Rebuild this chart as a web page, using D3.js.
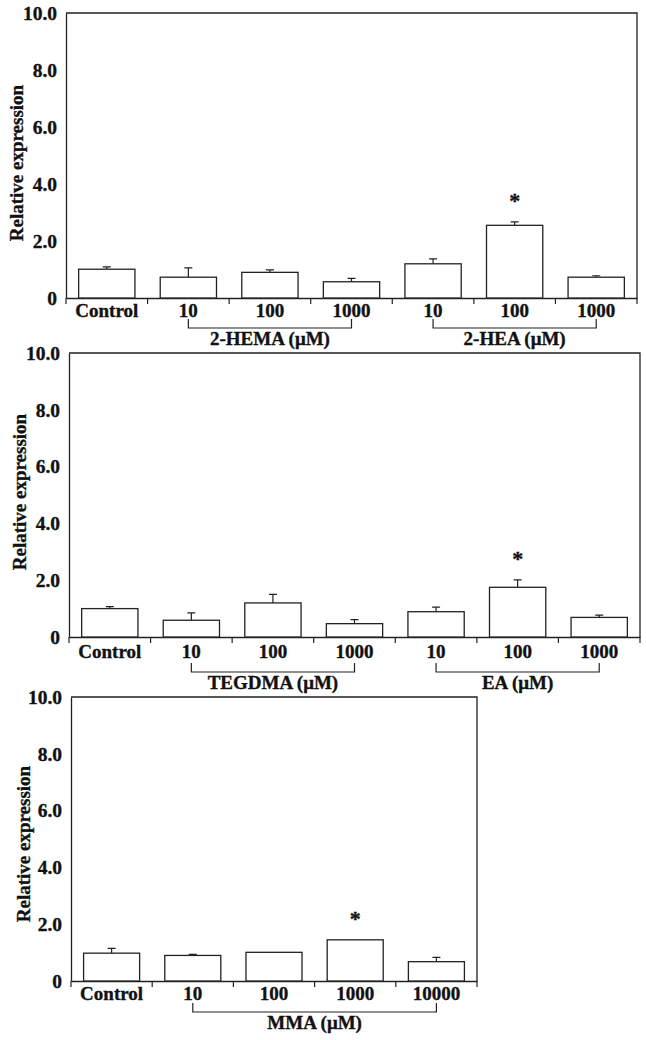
<!DOCTYPE html>
<html>
<head>
<meta charset="utf-8">
<script src="https://cdn.jsdelivr.net/npm/d3@7"></script>
<style>
  body { margin: 0; background: #fff; }
  svg text { font-family: "Liberation Serif", "Times New Roman", serif; font-weight: bold; fill: #111; stroke: #111; stroke-width: 0.35px; }
</style>
</head>
<body>
<div class="visContainer"></div>
<script>
// panel 1: 2-HEMA / 2-HEA
const labels1 = ['Control', '10', '100', '1000', '10', '100', '1000'];
const values1 = [1.01, 0.73, 0.90, 0.57, 1.20, 2.55, 0.73];
const errors1 = [0.08, 0.33, 0.09, 0.12, 0.17, 0.12, 0.05];
const stars1 = [5];
const groups1 = [['2-HEMA (μM)', 1, 3], ['2-HEA (μM)', 4, 6]];

// panel 2: TEGDMA / EA
const labels2 = ['Control', '10', '100', '1000', '10', '100', '1000'];
const values2 = [1.00, 0.59, 1.20, 0.47, 0.89, 1.75, 0.69];
const errors2 = [0.07, 0.26, 0.30, 0.14, 0.16, 0.26, 0.08];
const stars2 = [5];
const groups2 = [['TEGDMA (μM)', 1, 3], ['EA (μM)', 4, 6]];

// panel 3: MMA
const labels3 = ['Control', '10', '100', '1000', '10000'];
const values3 = [0.98, 0.90, 1.01, 1.45, 0.68];
const errors3 = [0.17, 0.04, 0, 0, 0.15];
const stars3 = [3];
const groups3 = [['MMA (μM)', 1, 4]];

const yTicks = [0, 2, 4, 6, 8, 10];

const width = 646;
const height = 1040;
const ink = '#222';

const svg = d3.select('.visContainer')
              .append('svg')
              .attr('width', width)
              .attr('height', height);

function barPanel(labels, values, errors, stars, groups, box) {
    const n = labels.length;
    const idx = d3.range(n);
    const g = svg.append('g');

    const xScale = d3.scaleBand()
                     .domain(idx)
                     .range([box.left, box.right])
                     .paddingInner(0.31)
                     .paddingOuter(0.155);
    const yScale = d3.scaleLinear()
                     .domain([0, 10])
                     .range([box.zero, box.top]);
    const step = xScale.step();
    const gap = (step - xScale.bandwidth()) / 2;

    // frame: top and right sides
    g.append('path')
     .attr('d', 'M' + box.left + ',' + box.top + 'H' + box.right + 'V' + box.zero)
     .attr('fill', 'none')
     .attr('stroke', ink)
     .attr('stroke-width', 1.3);

    // y axis
    const yAxis = d3.axisLeft(yScale)
                    .tickValues(yTicks)
                    .tickSize(0)
                    .tickPadding(9)
                    .tickFormat(d => d === 0 ? '0' : d.toFixed(1));
    const ya = g.append('g')
                .attr('transform', 'translate(' + box.left + ',0)')
                .call(yAxis);
    ya.select('.domain').attr('stroke', ink).attr('stroke-width', 1.3);
    ya.selectAll('text').attr('font-size', 19.5).attr('fill', '#111');

    // x axis labels
    const xAxis = d3.axisBottom(xScale)
                    .tickSize(0)
                    .tickPadding(box.labelPad)
                    .tickFormat(i => labels[i]);
    const xa = g.append('g')
                .attr('transform', 'translate(0,' + box.zero + ')')
                .call(xAxis);
    xa.select('.domain').attr('stroke', ink).attr('stroke-width', 1.3);
    xa.selectAll('text').attr('font-size', 19).attr('fill', '#111');

    // boundary ticks
    const bounds = idx.map(i => xScale(i) - gap).concat([box.right]);
    g.selectAll('.btick')
     .data(bounds)
     .enter()
     .append('line')
     .attr('x1', d => d).attr('x2', d => d)
     .attr('y1', box.zero).attr('y2', box.zero + 6)
     .attr('stroke', ink)
     .attr('stroke-width', 1.2);

    // error bars
    g.selectAll('.err')
     .data(idx.filter(i => errors[i] > 0))
     .enter()
     .append('path')
     .attr('d', i => {
         const cx = xScale(i) + xScale.bandwidth() / 2;
         const y1 = yScale(values[i]);
         const y2 = yScale(values[i] + errors[i]);
         return 'M' + cx + ',' + y1 + 'V' + y2 + 'M' + (cx - 4) + ',' + y2 + 'H' + (cx + 4);
     })
     .attr('fill', 'none')
     .attr('stroke', ink)
     .attr('stroke-width', 1.2);

    // bars
    g.selectAll('.bar')
     .data(values)
     .enter()
     .append('rect')
     .attr('x', (d, i) => xScale(i))
     .attr('y', d => yScale(d))
     .attr('width', xScale.bandwidth())
     .attr('height', d => yScale(0) - yScale(d))
     .attr('fill', '#fff')
     .attr('stroke', ink)
     .attr('stroke-width', 1.3);

    // significance stars
    g.selectAll('.star')
     .data(stars)
     .enter()
     .append('text')
     .attr('x', i => xScale(i) + xScale.bandwidth() / 2)
     .attr('y', i => yScale(values[i] + errors[i]) - 14)
     .attr('text-anchor', 'middle')
     .attr('font-size', 22)
     .text('*');

    // group brackets
    const by = box.zero + box.bracket;
    groups.forEach(grp => {
        const a = xScale(grp[1]) + xScale.bandwidth() / 2;
        const b = xScale(grp[2]) + xScale.bandwidth() / 2;
        g.append('path')
         .attr('d', 'M' + a + ',' + (by - 9) + 'V' + by + 'H' + b + 'V' + (by - 9))
         .attr('fill', 'none')
         .attr('stroke', ink)
         .attr('stroke-width', 1.2);
        g.append('text')
         .attr('x', (a + b) / 2)
         .attr('y', by + 17)
         .attr('text-anchor', 'middle')
         .attr('font-size', 19)
         .text(grp[0]);
    });

    // y label
    g.append('text')
     .attr('transform', 'translate(' + box.ylabX + ',' + box.ylabY + ') rotate(-90)')
     .attr('text-anchor', 'middle')
     .attr('font-size', 19)
     .text('Relative expression');
}

barPanel(labels1, values1, errors1, stars1, groups1,
         {left: 66, right: 637, top: 13, zero: 298, labelPad: 6, bracket: 30, ylabX: 23, ylabY: 163});
barPanel(labels2, values2, errors2, stars2, groups2,
         {left: 69, right: 640, top: 353, zero: 637, labelPad: 8, bracket: 35, ylabX: 26, ylabY: 492});
barPanel(labels3, values3, errors3, stars3, groups3,
         {left: 71, right: 477, top: 697, zero: 981, labelPad: 6, bracket: 31, ylabX: 30, ylabY: 844});
</script>
</body>
</html>
